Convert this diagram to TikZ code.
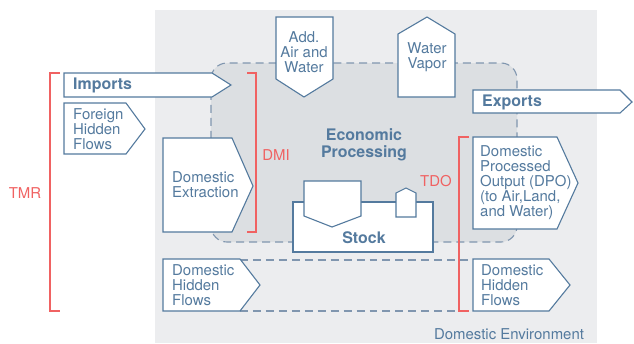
\documentclass[tikz,border=0pt]{standalone}
\usepackage{fontspec}
\setmainfont{TeX Gyre Heros}
\definecolor{flowblue}{RGB}{84,122,158}
\definecolor{envgray}{RGB}{236,237,239}
\definecolor{ecogray}{RGB}{220,223,226}
\definecolor{tmrred}{RGB}{240,98,98}
\definecolor{dashblue}{RGB}{128,150,175}
\tikzset{
  flowbox/.style={draw=flowblue,fill=white,line width=1.1pt,line join=miter},
  flowtext/.style={text=flowblue,inner sep=0pt,align=left,font=\fontsize{15}{15}\selectfont},
  headtext/.style={text=flowblue,inner sep=0pt,align=center,font=\fontsize{16}{17}\selectfont\bfseries},
  bracket/.style={draw=tmrred,line width=1.1pt},
  redtext/.style={text=tmrred,inner sep=0pt,font=\fontsize{15}{15}\selectfont},
  dashline/.style={draw=dashblue,line width=1.1pt,dash pattern=on 8pt off 5pt}
}
\begin{document}
\begin{tikzpicture}[x=1bp,y=-1bp]
\useasboundingbox (0,0) rectangle (634,343);
% domestic environment and economy
\fill[envgray] (155,10) rectangle (597,343);
\draw[dashline,fill=ecogray,rounded corners=16bp] (211,63) rectangle (517,242);
\draw[dashline] (240,260) -- (473,260);
\draw[dashline] (240,311) -- (473,311);

% inputs
\draw[flowbox] (64,73) -- (212,73) -- (231,85) -- (212,97) -- (64,97) -- cycle;
\draw[flowbox] (64,103) -- (126,103) -- (145,129) -- (126,154) -- (64,154) -- cycle;
\draw[flowbox] (163,138) -- (232,138) -- (253,186) -- (232,232) -- (163,232) -- cycle;
\draw[flowbox] (163,259) -- (240,259) -- (260,285) -- (240,311) -- (163,311) -- cycle;
\draw[flowbox] (276,17) -- (333,17) -- (333,79) -- (304,97) -- (276,79) -- cycle;

% outputs
\draw[flowbox] (398,97) -- (398,34) -- (427,17) -- (455,34) -- (455,97) -- cycle;
\draw[flowbox] (473,90) -- (620,90) -- (632,102) -- (620,113) -- (473,113) -- cycle;
\draw[flowbox] (473,137) -- (557,137) -- (578,183) -- (557,229) -- (473,229) -- cycle;
\draw[flowbox] (473,259) -- (549,259) -- (570,285) -- (549,311) -- (473,311) -- cycle;

% stock
\draw[flowbox] (293,202) rectangle (433,252);
\draw[flowbox] (304,181) -- (361,181) -- (361,216) -- (332,227) -- (304,216) -- cycle;
\draw[flowbox] (396,217) -- (396,193) -- (406,188) -- (416,193) -- (416,217) -- cycle;

% brackets
\draw[bracket] (60,73) -- (50,73) -- (50,311) -- (60,311);
\draw[bracket] (247,73) -- (256,73) -- (256,232) -- (247,232);
\draw[bracket] (469,137) -- (459,137) -- (459,311) -- (469,311);

% labels
\node[headtext,anchor=west] (imports) at (73,85) {Imports};
\node[flowtext,anchor=west] (foreign) at (73,129) {Foreign\\Hidden\\Flows};
\node[flowtext,anchor=west] (extraction) at (172,185) {Domestic\\Extraction};
\node[flowtext,anchor=west] (hiddenin) at (172,285) {Domestic\\Hidden\\Flows};
\node[flowtext,align=center] (airwater) at (304,52) {Add.\\Air and\\Water};
\node[flowtext,align=center] (vapor) at (427,57) {Water\\Vapor};
\node[headtext,anchor=west] (exports) at (482,102) {Exports};
\node[flowtext,anchor=west] (dpo) at (480,183) {Domestic\\Processed\\Output (DPO)\\(to Air,Land,\\and Water)};
\node[flowtext,anchor=west] (hiddenout) at (481,285) {Domestic\\Hidden\\Flows};
\node[headtext] (economy) at (364,145) {Economic\\Processing};
\node[headtext] (stock) at (364,238) {Stock};
\node[flowtext] (environment) at (509,334) {Domestic Environment};
\node[redtext] (tmr) at (25,193) {TMR};
\node[redtext] (dmi) at (276,155) {DMI};
\node[redtext] (tdo) at (436,181) {TDO};
\end{tikzpicture}
\end{document}
